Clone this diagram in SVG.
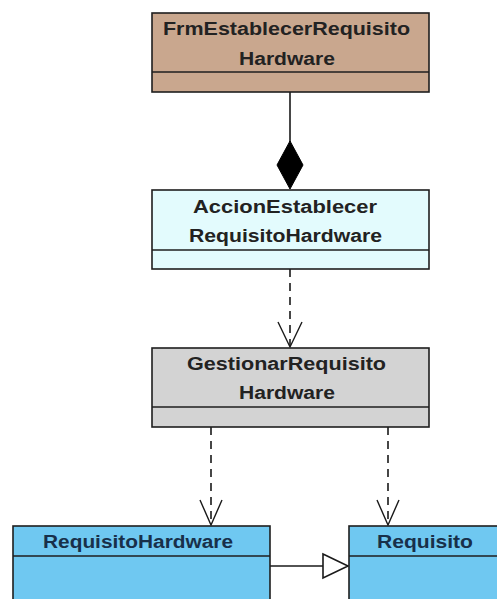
<svg xmlns="http://www.w3.org/2000/svg" width="497" height="599" viewBox="0 0 497 599">
<style>
.box{stroke:#1e1e1e;stroke-width:1.6}
.div{stroke:#1e1e1e;stroke-width:1.6;fill:none}
.t{font-family:"Liberation Sans",Arial,sans-serif;font-weight:bold;font-size:18px;fill:#222222;text-anchor:start}
.tb{fill:#18304a}
.solid{stroke:#1a1a1a;stroke-width:1.6;fill:none}
.dash{stroke:#1a1a1a;stroke-width:1.6;fill:none;stroke-dasharray:8 6}
.open{stroke:#1a1a1a;stroke-width:1.4;fill:none}
</style>
<rect width="497" height="599" fill="#ffffff"/>
<g id="connectors">
  <line class="solid" x1="290" y1="92" x2="290" y2="142"/>
  <polygon points="290,141 303,165 290,189 277,165" fill="#000000" stroke="#000000" stroke-width="1"/>
  <line class="dash" x1="290" y1="269" x2="290" y2="346"/>
  <polyline class="open" points="278,322 290,347 302,322"/>
  <line class="dash" x1="211" y1="427" x2="211" y2="524"/>
  <polyline class="open" points="200,500 211,525 222,500"/>
  <line class="dash" x1="388" y1="427" x2="388" y2="524"/>
  <polyline class="open" points="377,500 388,525 399,500"/>
  <line class="solid" x1="270" y1="566" x2="323" y2="566"/>
  <polygon points="323,554 348,566 323,578" fill="#ffffff" stroke="#1a1a1a" stroke-width="1.6"/>
</g>
<g id="frm">
  <rect class="box" x="152" y="13" width="277" height="79" fill="#c9a78e"/>
  <line class="div" x1="152" y1="72" x2="429" y2="72"/>
  <text class="t" x="163" y="35" textLength="247" lengthAdjust="spacingAndGlyphs">FrmEstablecerRequisito</text>
  <text class="t" x="239" y="65" textLength="96" lengthAdjust="spacingAndGlyphs">Hardware</text>
</g>
<g id="accion">
  <rect class="box" x="152" y="190" width="277" height="79" fill="#e3fbfd"/>
  <line class="div" x1="152" y1="250" x2="429" y2="250"/>
  <text class="t" x="193" y="213" textLength="184" lengthAdjust="spacingAndGlyphs">AccionEstablecer</text>
  <text class="t" x="189" y="242" textLength="193" lengthAdjust="spacingAndGlyphs">RequisitoHardware</text>
</g>
<g id="gestionar">
  <rect class="box" x="152" y="348" width="277" height="79" fill="#d3d3d3"/>
  <line class="div" x1="152" y1="407" x2="429" y2="407"/>
  <text class="t" x="187" y="370" textLength="199" lengthAdjust="spacingAndGlyphs">GestionarRequisito</text>
  <text class="t" x="239" y="399" textLength="96" lengthAdjust="spacingAndGlyphs">Hardware</text>
</g>
<g id="requisitoHardware">
  <rect class="box" x="13" y="526" width="257" height="80" fill="#6fc8f1"/>
  <line class="div" x1="13" y1="556" x2="270" y2="556"/>
  <text class="t tb" x="43" y="548" textLength="190" lengthAdjust="spacingAndGlyphs">RequisitoHardware</text>
</g>
<g id="requisito">
  <rect class="box" x="349" y="526" width="160" height="80" fill="#6fc8f1"/>
  <line class="div" x1="349" y1="556" x2="509" y2="556"/>
  <text class="t tb" x="377" y="548" textLength="96" lengthAdjust="spacingAndGlyphs">Requisito</text>
</g>
</svg>
